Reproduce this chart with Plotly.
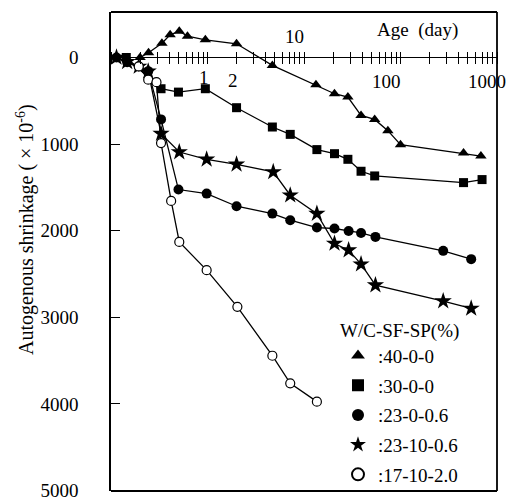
import plotly.graph_objects as go
import math

# ---------------- data ----------------
age_a = [0.2, 0.245, 0.337, 0.41, 0.51, 0.62, 0.95, 2.0, 4.7, 13.3, 20.7, 28.5, 39, 54, 74, 100, 450, 681]
shr_a = [0, -54, -165, -262, -303, -245, -204, -158, 92, 315, 419, 457, 669, 715, 845, 1007, 1103, 1138]

age_b = [0.144, 0.33, 0.5, 0.95, 2.0, 4.7, 7.2, 13.6, 20.7, 28.5, 39, 54, 450, 700]
shr_b = [0, 361, 400, 361, 580, 803, 888, 1064, 1111, 1176, 1314, 1368, 1445, 1410]

age_c = [0.114, 0.147, 0.194, 0.243, 0.33, 0.5, 0.98, 2.0, 4.7, 7.2, 13.6, 20.7, 29, 39, 55, 277, 540]
shr_c = [0, 54, 104, 158, 715, 1525, 1572, 1718, 1803, 1879, 1964, 1975, 2003, 2026, 2072, 2233, 2329]

age_d = [0.114, 0.147, 0.194, 0.243, 0.33, 0.51, 0.98, 2.0, 4.8, 7.2, 13.6, 20.7, 29, 39, 55, 277, 540]
shr_d = [0, 50, 104, 160, 880, 1092, 1176, 1234, 1322, 1591, 1803, 2148, 2225, 2387, 2629, 2813, 2898]

age_e = [0.194, 0.243, 0.296, 0.33, 0.42, 0.51, 0.98, 2.04, 4.7, 7.2, 13.6]
shr_e = [104, 257, 285, 988, 1657, 2130, 2456, 2879, 3444, 3763, 3974]

series_names = [":40-0-0", ":30-0-0", ":23-0-0.6", ":23-10-0.6", ":17-10-2.0"]
legend_title = "W/C-SF-SP(%)"

y_tickvals = [0, 1000, 2000, 3000, 4000, 5000]
x_label_vals = [1, 2, 10, 100, 1000]
x_ticks = [m * 10 ** d for d in range(-1, 3) for m in range(1, 10)] + [1000]

Y_MIN, Y_MAX = -525, 5006
FONT = "Liberation Serif"
PLOT_H = 501 - 12 - 10

fig = go.Figure()

styles = [
    dict(symbol="triangle-up", size=10, color="black", line=dict(width=0)),
    dict(symbol="square", size=9, color="black", line=dict(width=0)),
    dict(symbol="circle", size=10, color="black", line=dict(width=0)),
    dict(symbol="star", size=13, color="black", line=dict(width=0)),
    dict(symbol="circle", size=9, color="white", line=dict(width=1.2, color="black")),
]
datas = [(age_a, shr_a), (age_b, shr_b), (age_c, shr_c), (age_d, shr_d), (age_e, shr_e)]

for i, ((xs, ys), st, nm) in enumerate(zip(datas, styles, series_names)):
    fig.add_trace(go.Scatter(
        x=xs, y=ys, mode="lines+markers", name=nm, showlegend=False,
        line=dict(color="black", width=1.3),
        marker=st,
    ))
# marker-only legend entries
for i, (st, nm) in enumerate(zip(styles, series_names)):
    fig.add_trace(go.Scatter(
        x=[None], y=[None], mode="markers", name=nm, legendgroup=f"g{i}",
        marker=st, showlegend=True,
    ))

# x axis sits 6 px above y=0 so that its outside ticks cross the zero line
xpos = Y_MAX / (Y_MAX - Y_MIN) + 6 / PLOT_H

fig.update_layout(
    width=509, height=501,
    margin=dict(l=111, r=12, t=12, b=10, autoexpand=False),
    paper_bgcolor="white", plot_bgcolor="white",
    font=dict(family=FONT, size=19, color="black"),
    showlegend=True,
    legend=dict(
        x=(338 - 111) / 386, y=(491 - 312) / 479, xanchor="left", yanchor="top",
        bgcolor="rgba(0,0,0,0)", borderwidth=0,
        font=dict(family=FONT, size=19, color="black"),
        title=dict(text=legend_title, font=dict(family=FONT, size=19, color="black")),
        tracegroupgap=2, itemsizing="constant",
    ),
    xaxis=dict(
        type="log", range=[-1, 3], anchor="free", position=xpos, automargin=False,
        showline=False,
        ticks="outside", ticklen=12, tickwidth=1.2, tickcolor="black",
        tickmode="array", tickvals=x_ticks, showticklabels=False,
        showgrid=False, zeroline=False,
    ),
    yaxis=dict(
        range=[Y_MAX, Y_MIN], automargin=False,
        showline=True, linecolor="black", linewidth=1.6,
        showgrid=False,
        zeroline=True, zerolinecolor="black", zerolinewidth=1.3,
        ticks="inside", ticklen=9, tickwidth=1.2, tickcolor="black",
        tickmode="array", tickvals=y_tickvals, ticktext=[str(v) for v in y_tickvals],
        ticklabelstandoff=27, ticklabeloverflow="allow",
        tickfont=dict(family=FONT, size=19, color="black"),
    ),
)

# plot frame (top, right, bottom edges)
frame = dict(color="black", width=1.8)
fig.add_shape(type="line", xref="paper", yref="paper", x0=0, x1=1, y0=1, y1=1, line=frame, layer="above")
fig.add_shape(type="line", xref="paper", yref="paper", x0=1, x1=1, y0=0, y1=1, line=frame, layer="above")
fig.add_shape(type="line", xref="paper", yref="paper", x0=0, x1=1, y0=0, y1=0, line=frame, layer="above")

# x tick labels placed near the zero line
lab_pos = {1: (-4, 237), 2: (-4, 265), 10: (-10, -237), 100: (-14, 283), 1000: (-10, 283)}
for v in x_label_vals:
    sh, yy = lab_pos[v]
    fig.add_annotation(x=math.log10(v), y=yy, xref="x", yref="y", text=str(v),
                       showarrow=False, xshift=sh, font=dict(family=FONT, size=19, color="black"))

fig.add_annotation(x=(416 - 207) / 96, y=-318, xref="x", yref="y", text="Age  (day)",
                   showarrow=False, font=dict(family=FONT, size=19, color="black"))

fig.add_annotation(x=(25 - 111) / 386, y=(491 - 230) / 479, xref="paper", yref="paper",
                   xanchor="center", yanchor="middle",
                   text="Autogenous shrinkage ( × 10<sup>-6</sup>)", textangle=-90,
                   showarrow=False, font=dict(family=FONT, size=20, color="black"))

fig.write_html("out.html")
